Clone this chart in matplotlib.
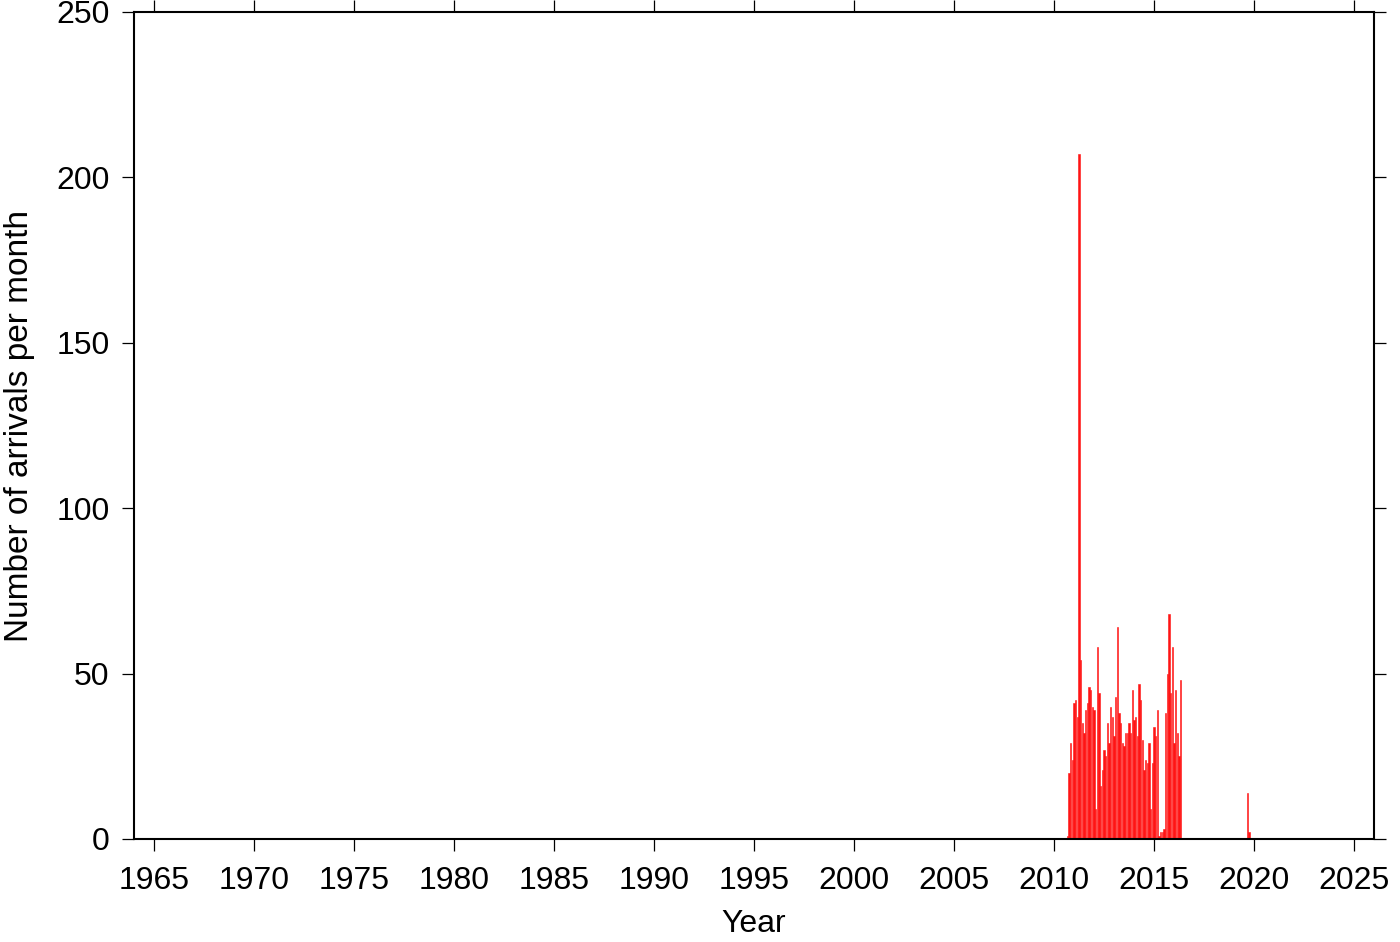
import matplotlib
matplotlib.use("Agg")
import matplotlib.pyplot as plt
import numpy as np

plt.rcParams['font.family'] = ['Liberation Sans', 'DejaVu Sans']

# Monthly arrival counts, first series starting September 2010
start_year_1, start_month_1 = 2010, 9
counts_1 = [1, 20, 29, 24, 41, 42, 37, 207, 54, 35, 32, 39, 41, 46, 45, 40, 39, 9,
            58, 44, 16, 21, 27, 25, 35, 29, 40, 37, 31, 43, 64,
            38, 35, 29, 28, 32, 32, 35, 32, 45, 36, 37, 31, 47, 42, 30, 21, 24, 23,
            29, 9, 23, 34, 31, 39, 1, 2, 2, 3, 38, 50, 68, 44, 58, 29, 45, 32, 25, 48]
# Second, short series starting September 2019
start_year_2, start_month_2 = 2019, 9
counts_2 = [14, 2]

year_ticks = list(range(1965, 2030, 5))
count_ticks = [0, 50, 100, 150, 200, 250]

def month_dates(y, m, n):
    return np.array([y + (m - 1 + i) / 12.0 for i in range(n)])

d1 = month_dates(start_year_1, start_month_1, len(counts_1))
d2 = month_dates(start_year_2, start_month_2, len(counts_2))

fig = plt.figure(figsize=(14, 9.42), dpi=100)
ax = fig.add_axes([134/1400, 1 - 839/942, (1374-134)/1400, (839-12)/942])

bar_color = '#ff1414'
ax.bar(d1, counts_1, width=0.07, color=bar_color, edgecolor=bar_color, linewidth=0.4)
ax.bar(d2, counts_2, width=0.07, color=bar_color, edgecolor=bar_color, linewidth=0.4)

ax.set_xlim(1964, 2026)
ax.set_ylim(0, 250)
ax.set_xticks(year_ticks)
ax.set_yticks(count_ticks)
ax.tick_params(axis='both', which='major', direction='out', length=8.6, width=0.9,
               labelsize=23, pad=9, top=True, right=True, labeltop=False, labelright=False)
ax.tick_params(axis='x', pad=10.5)
for s in ax.spines.values():
    s.set_linewidth(1.5)

ax.set_xlabel('Year', fontsize=23, labelpad=10)
ax.set_ylabel('Number of arrivals per month', fontsize=24, labelpad=15)

fig.savefig('out.png', dpi=100)
